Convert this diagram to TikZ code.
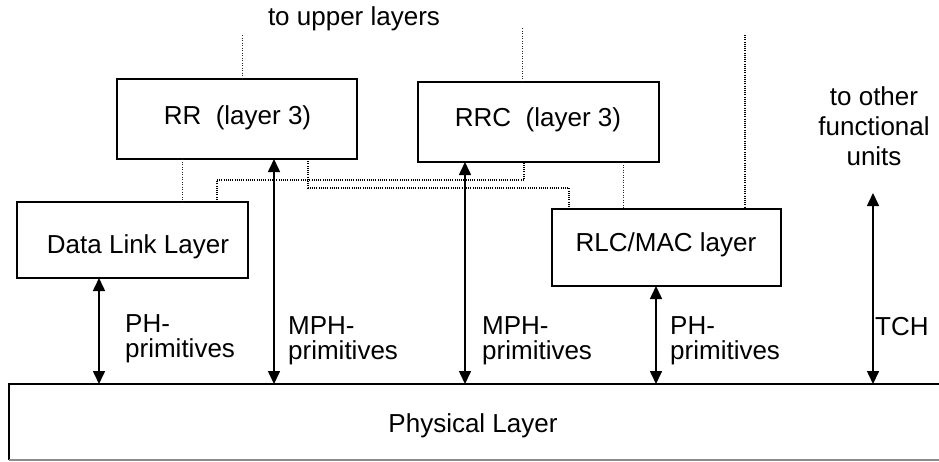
\documentclass[tikz,border=0pt]{standalone}
\usepackage{fontspec}
\setmainfont{Liberation Sans}
\usetikzlibrary{arrows.meta}
\begin{document}
\begin{tikzpicture}[x=1pt,y=-1pt,
  box/.style={draw, line width=1.6pt, inner sep=0pt, outer sep=0pt},
  lbl/.style={font=\fontsize{26}{25}\selectfont, inner sep=0pt, anchor=base},
  lbltwo/.style={font=\fontsize{26}{25}\selectfont, inner sep=0pt, anchor=north west, align=left},
  dbl/.style={line width=1.6pt, {Triangle[width=12pt,length=13pt]}-{Triangle[width=12pt,length=13pt]}},
  dots/.style={line width=1pt, dash pattern=on 1pt off 1.5pt, black!85},
  densedots/.style={line width=1.3pt, dash pattern=on 1pt off 1.2pt, black},
]
\useasboundingbox (0,0) rectangle (939,461);

% boxes
\node[box, minimum width=240pt, minimum height=80pt] (rr) at (237,119) {};
\node[box, minimum width=241pt, minimum height=80pt] (rrc) at (538.5,122) {};
\node[box, minimum width=231pt, minimum height=76pt] (dl) at (132.5,240) {};
\node[box, minimum width=229pt, minimum height=77pt] (rlc) at (666.5,247.5) {};
\node[inner sep=0pt, outer sep=0pt, minimum width=951pt, minimum height=76pt] (phys) at (484.5,422) {};
\draw[line width=1.6pt] (phys.south west) -- (phys.north west) -- (phys.north east);
\draw[line width=1.2pt, black!45] (phys.south west) -- (phys.south east);

% box texts
\node[lbl] (rrt) at (237.5,124) {RR\ \ (layer 3)};
\node[lbl] (rrct) at (538,126) {RRC\ \ (layer 3)};
\node[lbl] (dlt) at (138,253) {Data Link Layer};
\node[lbl] (rlct) at (666,251) {RLC/MAC layer};
\node[lbl] (physt) at (473,432) {Physical Layer};

% free texts
\node[lbl] (up) at (354,25) {to upper layers};
\node[font=\fontsize{26}{30}\selectfont, inner sep=0pt, anchor=north, align=center] (other) at (874,86.4) {to other\\functional\\units};
\node[lbltwo] (phl) at (125,314) {PH-\\primitives};
\node[lbltwo] (mph1) at (288,316) {MPH-\\primitives};
\node[lbltwo] (mph2) at (482,316) {MPH-\\primitives};
\node[lbltwo] (phr) at (670,316) {PH-\\primitives};
\node[lbl, anchor=base west] (tch) at (875,335) {TCH};

% arrows
\coordinate (a1) at (99,0);
\coordinate (a2) at (274,0);
\coordinate (a3) at (465,0);
\coordinate (a4) at (656,0);
\coordinate (tchtop) at (873,193);
\draw[dbl] (a1 |- dl.south) -- (a1 |- phys.north);
\draw[dbl] (a2 |- rr.south) -- (a2 |- phys.north);
\draw[dbl] (a3 |- rrc.south) -- (a3 |- phys.north);
\draw[dbl] (a4 |- rlc.south) -- (a4 |- phys.north);
\draw[dbl] (tchtop) -- (tchtop |- phys.north);

% dotted connections
\coordinate (u1) at (242,35);
\coordinate (u2) at (522,28);
\coordinate (u3) at (745,35);
\draw[dots] (u1) -- (u1 |- rr.north);
\draw[dots] (u2) -- (u2 |- rrc.north);
\draw[densedots] (u3) -- (u3 |- rlc.north);

\coordinate (d1) at (182,0);
\draw[dots] (d1 |- rr.south) -- (d1 |- dl.north);
\coordinate (d2) at (217,180);
\coordinate (d2b) at (524,0);
\draw[densedots] (d2 |- dl.north) -- (d2) -| (d2b |- rrc.south);
\coordinate (d3) at (308,188);
\coordinate (d3b) at (569,0);
\draw[densedots] (d3 |- rr.south) -- (d3) -| (d3b |- rlc.north);
\coordinate (d4) at (623,0);
\draw[dots] (d4 |- rrc.south) -- (d4 |- rlc.north);
\end{tikzpicture}
\end{document}
